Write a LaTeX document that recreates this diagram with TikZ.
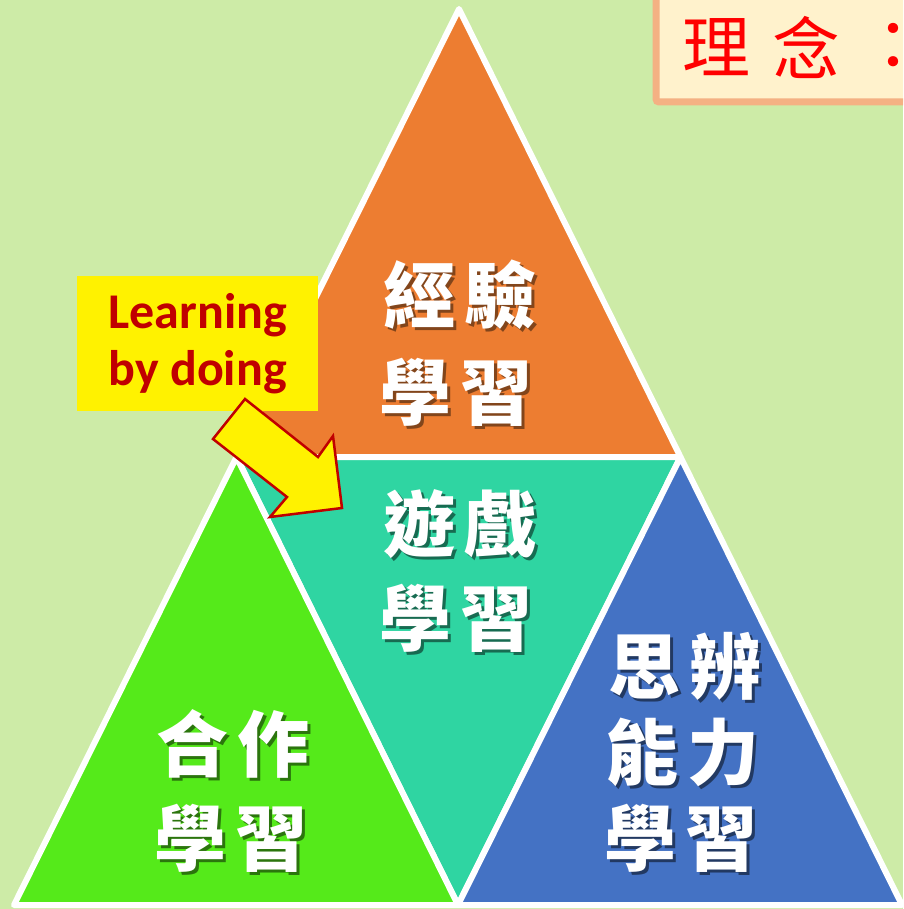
\documentclass[tikz,border=0pt]{standalone}
\usepackage{fontspec}
\setmainfont{Carlito}
\newfontfamily\cjk{Noto Sans CJK TC}
\definecolor{bgc}{HTML}{CDEBA7}
\definecolor{orng}{HTML}{ED7D31}
\definecolor{teal2}{HTML}{2FD5A2}
\definecolor{grn}{HTML}{55EA1A}
\definecolor{blu}{HTML}{4472C4}
\definecolor{cream}{HTML}{FFF2CC}
\definecolor{peach}{HTML}{F4B183}
\definecolor{dred}{HTML}{C00000}
\tikzset{
  tri/.style={draw=white, line width=6pt, line join=round},
  lbl/.style={font=\cjk\bfseries\fontsize{72}{72}\selectfont, text=white, inner sep=0pt, anchor=center},
  redch/.style={font=\cjk\fontsize{68}{68}\selectfont, text=red, inner sep=0pt, anchor=center}
}
% text with a soft drop shadow inside the same box
\newcommand{\shtxt}[2]{\makebox[0pt][l]{\hspace{3pt}\raisebox{-3pt}{\color{#1}#2}}#2}
\newcommand{\mylab}[4]{\node[lbl] (#1) at (#2) {\shtxt{#3}{#4}};}
\usetikzlibrary{calc}
\begin{document}
\begin{tikzpicture}[x=1pt,y=-1pt]
\useasboundingbox (0,0) rectangle (903,909);
\clip (0,0) rectangle (903,909);
\fill[bgc] (0,0) rectangle (903,909);
% corners of the big triangle
\coordinate (A) at (459,9);
\coordinate (B) at (14,905);
\coordinate (C) at (902,905);
\coordinate (AB) at ($(A)!0.5!(B)$);
\coordinate (AC) at ($(A)!0.5!(C)$);
\coordinate (BC) at ($(B)!0.5!(C)$);
\filldraw[tri, fill=orng] (A) -- (AB) -- (AC) -- cycle;
\filldraw[tri, fill=teal2] (AB) -- (AC) -- (BC) -- cycle;
\filldraw[tri, fill=grn] (AB) -- (B) -- (BC) -- cycle;
\filldraw[tri, fill=blu] (AC) -- (BC) -- (C) -- cycle;
% labels
\mylab{o1}{460,296}{orng!55!black}{經\hspace{10pt}驗}
\mylab{o2}{456,394}{orng!55!black}{學\hspace{10pt}習}
\mylab{t1}{460,526}{teal2!50!black}{遊\hspace{10pt}戲}
\mylab{t2}{456,620}{teal2!50!black}{學\hspace{10pt}習}
\mylab{g1}{233,745}{grn!50!black}{合\hspace{10pt}作}
\mylab{g2}{231,840}{grn!50!black}{學\hspace{10pt}習}
\mylab{b1}{685,668}{blu!50!black}{思\hspace{10pt}辨}
\mylab{b2}{683,754}{blu!50!black}{能\hspace{10pt}力}
\mylab{b3}{681,840}{blu!50!black}{學\hspace{10pt}習}
% top-right box
\filldraw[fill=cream, draw=peach, line width=7pt, rounded corners=3pt] (656,-20) rectangle (940,102);
\node[redch] (r1) at (716,47) {理};
\node[redch] (r2) at (806,47) {念};
\node[redch] (r3) at (893,47) {：};
% yellow box
\node[fill=yellow, minimum width=241pt, minimum height=135pt, inner sep=0pt, anchor=north west,
      text=dred, font=\bfseries\fontsize{50}{57}\selectfont, align=center] (lbd) at (77,276) {Learning\\by doing};
% block arrow
\filldraw[fill=yellow, draw=dred, line width=2.5pt, line join=miter]
  (245,399) -- (318,457) -- (333,436) -- (342,508) -- (270,517) -- (287,497) -- (213,439) -- cycle;
\end{tikzpicture}
\end{document}
